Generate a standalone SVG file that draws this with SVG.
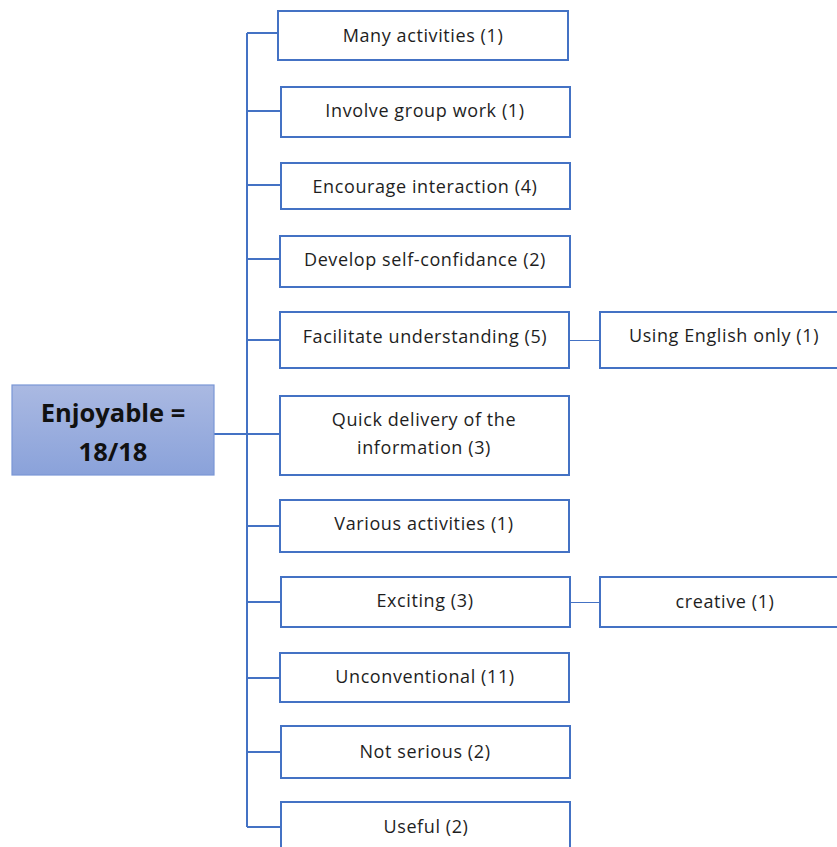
<svg xmlns="http://www.w3.org/2000/svg" width="837" height="847" viewBox="0 0 837 847">
  <defs>
    <linearGradient id="rootFill" x1="0" y1="0" x2="0" y2="1">
      <stop offset="0" stop-color="#aab9e2"/>
      <stop offset="1" stop-color="#8aa2da"/>
    </linearGradient>
    <style>
      .box { fill: #ffffff; stroke: #4472c4; stroke-width: 2; }
      .root { fill: url(#rootFill); stroke: #7a97d6; stroke-width: 1.2; }
      .lbl { font-family: "Open Sans", "Liberation Sans", sans-serif; font-size: 18px; letter-spacing: 0.6px; fill: #1e1e1e; text-anchor: middle; }
      .rlbl { font-family: "Open Sans", "Liberation Sans", sans-serif; font-size: 25.5px; font-weight: bold; fill: #111111; text-anchor: middle; }
      .trunk { stroke: #4472c4; stroke-width: 2; fill: none; }
      .sub { stroke: #4472c4; stroke-width: 1; fill: none; }
    </style>
  </defs>
  <rect width="837" height="847" fill="#ffffff"/>

  <!-- connectors -->
  <g id="connectors">
    <path class="trunk" d="M247 33 V827"/>
    <path class="trunk" d="M214 434 H280"/>
    <path class="trunk" d="M247 33 H278"/>
    <path class="trunk" d="M247 111 H281"/>
    <path class="trunk" d="M247 185 H281"/>
    <path class="trunk" d="M247 259 H280"/>
    <path class="trunk" d="M247 340 H280"/>
    <path class="trunk" d="M247 526 H280"/>
    <path class="trunk" d="M247 602 H281"/>
    <path class="trunk" d="M247 678 H280"/>
    <path class="trunk" d="M247 752 H281"/>
    <path class="trunk" d="M247 827 H281"/>
    <path class="sub" d="M569 340.5 H600"/>
    <path class="sub" d="M570 602.5 H600"/>
  </g>

  <g id="root">
    <rect class="root" x="12" y="385" width="202" height="90"/>
    <text class="rlbl" x="113" y="422">Enjoyable =</text>
    <text class="rlbl" x="113" y="461">18/18</text>
  </g>

  <g id="many-activities">
    <rect class="box" x="278" y="11" width="290" height="49"/>
    <text class="lbl" x="423" y="42">Many activities (1)</text>
  </g>
  <g id="group-work">
    <rect class="box" x="281" y="87" width="289" height="50"/>
    <text class="lbl" x="425" y="117">Involve group work (1)</text>
  </g>
  <g id="interaction">
    <rect class="box" x="281" y="163" width="289" height="46"/>
    <text class="lbl" x="425" y="193">Encourage interaction (4)</text>
  </g>
  <g id="self-confidance">
    <rect class="box" x="280" y="236" width="290" height="51"/>
    <text class="lbl" x="425" y="266">Develop self-confidance (2)</text>
  </g>
  <g id="understanding">
    <rect class="box" x="280" y="312" width="289" height="56"/>
    <text class="lbl" x="425" y="343">Facilitate understanding (5)</text>
  </g>
  <g id="english-only">
    <rect class="box" x="600" y="312" width="240" height="56"/>
    <text class="lbl" x="724" y="342">Using English only (1)</text>
  </g>
  <g id="quick-delivery">
    <rect class="box" x="280" y="396" width="289" height="79"/>
    <text class="lbl" x="424" y="426">Quick delivery of the</text>
    <text class="lbl" x="424" y="454">information (3)</text>
  </g>
  <g id="various-activities">
    <rect class="box" x="280" y="500" width="289" height="52"/>
    <text class="lbl" x="424" y="530">Various activities (1)</text>
  </g>
  <g id="exciting">
    <rect class="box" x="281" y="577" width="289" height="50"/>
    <text class="lbl" x="425" y="607">Exciting (3)</text>
  </g>
  <g id="creative">
    <rect class="box" x="600" y="577" width="240" height="50"/>
    <text class="lbl" x="725" y="608">creative (1)</text>
  </g>
  <g id="unconventional">
    <rect class="box" x="280" y="653" width="289" height="49"/>
    <text class="lbl" x="425" y="683">Unconventional (11)</text>
  </g>
  <g id="not-serious">
    <rect class="box" x="281" y="726" width="289" height="52"/>
    <text class="lbl" x="425" y="758">Not serious (2)</text>
  </g>
  <g id="useful">
    <rect class="box" x="281" y="802" width="289" height="50"/>
    <text class="lbl" x="426" y="833">Useful (2)</text>
  </g>
</svg>
